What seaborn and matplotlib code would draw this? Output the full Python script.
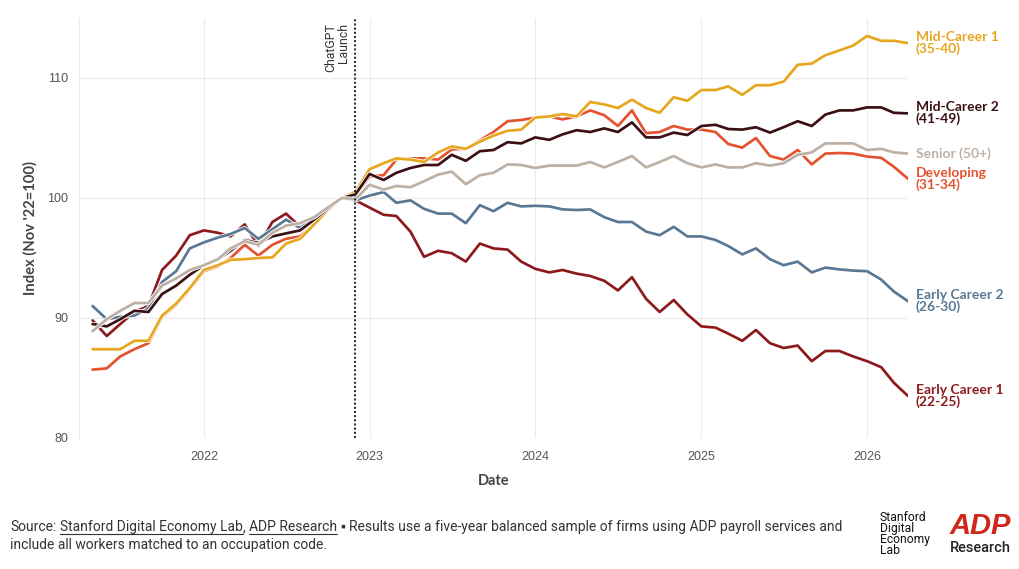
import numpy as np
import pandas as pd
import matplotlib
matplotlib.use("Agg")
import matplotlib.pyplot as plt
import matplotlib.patheffects as pe
from matplotlib.lines import Line2D
import seaborn as sns

# ---------------- data ----------------
dates = pd.date_range("2021-05-01", "2026-04-01", freq="MS")

early_career_1 = [89.8, 88.5, 89.5, 90.5, 91.0, 94.0, 95.2, 96.9, 97.3, 97.1,
                  96.8, 97.8, 96.0, 98.0, 98.7, 97.6, 98.3, 99.1, 100.0, 99.8,
                  99.2, 98.6, 98.5, 97.2, 95.1, 95.6, 95.4, 94.7, 96.2, 95.8,
                  95.7, 94.7, 94.1, 93.8, 94.0, 93.7, 93.5, 93.1, 92.3, 93.4,
                  91.6, 90.5, 91.5, 90.3, 89.3, 89.2, 88.7, 88.1, 89.0, 87.9,
                  87.5, 87.7, 86.4, 87.25, 87.25, 86.8, 86.4, 85.9, 84.6, 83.5]
early_career_2 = [91.0, 89.9, 90.1, 90.2, 90.8, 93.0, 93.9, 95.8, 96.3, 96.7,
                  97.0, 97.5, 96.6, 97.4, 98.2, 97.5, 98.3, 99.1, 100.0, 99.8,
                  100.2, 100.5, 99.6, 99.8, 99.1, 98.7, 98.7, 97.9, 99.4, 98.9,
                  99.6, 99.3, 99.35, 99.3, 99.05, 99.0, 99.05, 98.4, 98.0, 98.0,
                  97.2, 96.9, 97.6, 96.8, 96.8, 96.5, 96.0, 95.3, 95.8, 94.9,
                  94.4, 94.7, 93.8, 94.2, 94.05, 93.95, 93.9, 93.2, 92.2, 91.4]
developing = [85.7, 85.8, 86.8, 87.4, 87.9, 90.1, 91.1, 92.4, 93.9, 94.3,
              95.0, 96.1, 95.2, 96.1, 96.6, 96.8, 97.8, 99.0, 100.0, 100.25,
              101.8, 101.9, 103.2, 103.3, 103.3, 103.2, 104.05, 104.1, 104.8, 105.5,
              106.4, 106.5, 106.7, 106.8, 106.55, 106.8, 107.3, 106.9, 106.0, 107.3,
              105.4, 105.5, 106.0, 105.7, 105.7, 105.5, 104.5, 104.2, 105.0, 103.5,
              103.2, 104.0, 102.8, 103.7, 103.75, 103.7, 103.45, 103.35, 102.6, 101.6]
mid_career_1 = [87.4, 87.4, 87.4, 88.1, 88.1, 90.2, 91.2, 92.5, 94.0, 94.4,
                94.85, 94.9, 95.0, 95.05, 96.2, 96.6, 97.8, 99.0, 100.0, 100.5,
                102.4, 102.9, 103.3, 103.2, 103.0, 103.8, 104.3, 104.1, 104.7, 105.2,
                105.6, 105.7, 106.7, 106.8, 107.0, 106.8, 108.0, 107.8, 107.5, 108.2,
                107.5, 107.1, 108.4, 108.1, 109.0, 109.0, 109.3, 108.6, 109.4, 109.4,
                109.7, 111.1, 111.2, 111.9, 112.3, 112.7, 113.5, 113.1, 113.1, 112.9]
mid_career_2 = [89.5, 89.3, 89.9, 90.6, 90.5, 92.0, 92.7, 93.6, 94.4, 94.9,
                95.6, 96.5, 96.25, 96.8, 97.05, 97.3, 98.2, 99.1, 100.0, 100.3,
                102.0, 101.5, 102.1, 102.5, 102.75, 102.75, 103.6, 103.1, 103.9, 104.0,
                104.65, 104.55, 105.05, 104.85, 105.3, 105.65, 105.5, 105.8, 105.5, 106.3,
                105.05, 105.05, 105.45, 105.25, 106.0, 106.1, 105.75, 105.7, 105.9, 105.45,
                105.9, 106.4, 106.0, 106.95, 107.3, 107.3, 107.55, 107.55, 107.1, 107.05]
senior = [88.9, 89.9, 90.6, 91.25, 91.25, 92.7, 93.3, 94.0, 94.4, 94.9,
          95.8, 96.4, 96.1, 97.1, 97.7, 97.9, 98.4, 99.2, 100.0, 99.9,
          101.1, 100.7, 101.0, 100.9, 101.4, 101.95, 102.2, 101.15, 101.9, 102.1,
          102.8, 102.75, 102.5, 102.7, 102.7, 102.7, 103.0, 102.55, 103.0, 103.5,
          102.55, 103.0, 103.5, 102.9, 102.55, 102.8, 102.55, 102.55, 102.9, 102.7,
          102.9, 103.6, 103.8, 104.55, 104.55, 104.55, 104.0, 104.1, 103.8, 103.7]

series_names = ["Early Career 1", "Early Career 2", "Developing",
                "Mid-Career 1", "Mid-Career 2", "Senior (50+)"]
series_labels = ["Early Career 1\n(22-25)", "Early Career 2\n(26-30)", "Developing\n(31-34)",
                 "Mid-Career 1\n(35-40)", "Mid-Career 2\n(41-49)", "Senior (50+)"]
series_values = [early_career_1, early_career_2, developing,
                 mid_career_1, mid_career_2, senior]
series_colors = ["#8C1A1C", "#5A7893", "#E4522F", "#E6A61E", "#3B1014", "#BDB0A4"]

y_ticks = [80, 90, 100, 110]
x_tick_years = ["2022", "2023", "2024", "2025", "2026"]
chatgpt_date = pd.Timestamp("2022-11-30")

df = pd.DataFrame({
    "date": np.tile(dates, len(series_names)),
    "value": np.concatenate(series_values),
    "group": np.repeat(series_names, len(dates)),
})

# ---------------- style ----------------
sns.set_theme(style="white")
plt.rcParams["font.family"] = ["Liberation Sans", "DejaVu Sans"]

W, H = 1020, 569
fig = plt.figure(figsize=(W / 100, H / 100), dpi=100)
fig.patch.set_facecolor("white")
ax = fig.add_axes([79 / W, 1 - 438 / H, (908 - 79) / W, (438 - 18) / H])

sns.lineplot(data=df, x="date", y="value", hue="group", hue_order=series_names,
             palette=series_colors, linewidth=1.95, legend=False, errorbar=None, ax=ax)
for ln in ax.lines:
    ln.set_path_effects([pe.Stroke(linewidth=3.1, foreground="white"), pe.Normal()])
    ln.set_solid_joinstyle("round")

ax.set_ylim(80, 115)
ax.set_xlim(pd.Timestamp("2021-04-01"), pd.Timestamp("2026-04-01"))
ax.set_yticks(y_ticks)
ax.set_yticklabels([str(t) for t in y_ticks])
ax.set_xticks([pd.Timestamp(f"{y}-01-01") for y in x_tick_years])
ax.set_xticklabels(x_tick_years)
ax.grid(True, color="#EBEBEB", linewidth=0.8)
ax.set_axisbelow(True)
for s in ["top", "right", "bottom"]:
    ax.spines[s].set_visible(False)
ax.spines["left"].set_color("#EBEBEB")
ax.spines["left"].set_linewidth(0.8)
ax.tick_params(axis="both", length=0, labelsize=9.0, labelcolor="#555555")
ax.tick_params(axis="y", pad=8)
ax.tick_params(axis="x", pad=9)
ax.set_xlabel("")
ax.set_ylabel("")

fig.text(493.5 / W, 1 - 481 / H, "Date", ha="center", va="center",
         fontsize=10.5, fontweight="bold", color="#444444", family=["Lato", "DejaVu Sans"])
fig.text(30 / W, 1 - 228 / H, "Index (Nov '22=100)", ha="center", va="center",
         rotation=90, fontsize=10.6, fontweight="bold", color="#444444",
         family=["Lato", "DejaVu Sans"])

# ChatGPT launch marker
ax.axvline(chatgpt_date, color="#333333", linestyle=(0, (1, 1)), linewidth=1.5, zorder=5)
ax.annotate("ChatGPT\nLaunch", xy=(chatgpt_date, 115), xycoords="data",
            xytext=(-5, -5), textcoords="offset pixels", rotation=90,
            ha="right", va="top", multialignment="right", fontsize=8.8,
            color="#333333", linespacing=1.0, family=["Roboto", "DejaVu Sans"])

# end-of-line labels
for name, lab, vals, col in zip(series_names, series_labels, series_values, series_colors):
    ax.annotate(lab, xy=(1, vals[-1]), xycoords=("axes fraction", "data"),
                xytext=(8, 0), textcoords="offset pixels", ha="left", va="center",
                fontsize=10.0, fontweight="bold", color=col, linespacing=0.95,
                family=["Lato", "DejaVu Sans"], annotation_clip=False)

# ---------------- footer ----------------
foot_fam = ["Roboto", "Liberation Sans", "DejaVu Sans"]
foot_col = "#333333"
line1 = ("Source: Stanford Digital Economy Lab, ADP Research \u25aa Results use a five-year "
         "balanced sample of firms using ADP payroll services and")
line2 = "include all workers matched to an occupation code."
target_w = 838.0

fig.canvas.draw()
renderer = fig.canvas.get_renderer()

def width_px(s, size, fam=foot_fam):
    t = fig.text(0, 0, s, fontsize=size, family=fam)
    w = t.get_window_extent(renderer).width
    t.remove()
    return w

fs = 9.5
fs = fs * target_w / width_px(line1, fs)
space = width_px("a a", fs) - width_px("aa", fs)

segments = [("Source:", False, 0.0),
            ("Stanford Digital Economy Lab", True, space),
            (",", False, 0.0),
            ("ADP Research", True, space),
            ("\u25aa", False, space),
            ("Results use a five-year balanced sample of firms using ADP payroll services and", False, space)]
x = 10.0
base1 = 531.0
for txt, ul, sp in segments:
    x += sp
    t = fig.text(x / W, 1 - base1 / H, txt, fontsize=fs, family=foot_fam,
                 color=foot_col, ha="left", va="baseline")
    bb = t.get_window_extent(renderer)
    if ul:
        fig.add_artist(Line2D([bb.x0 / W, bb.x1 / W], [1 - (base1 + 2.5) / H] * 2,
                              transform=fig.transFigure, color=foot_col, linewidth=0.8))
    x = bb.x1
fig.text(10 / W, 1 - 549 / H, line2, fontsize=fs, family=foot_fam, color=foot_col,
         ha="left", va="baseline")

# logos
fig.text(880 / W, 1 - 511 / H, "Stanford\nDigital\nEconomy\nLab", fontsize=8.7,
         family=foot_fam, color="#111111", ha="left", va="top", linespacing=0.8)
fig.text(980 / W, 1 - 526 / H, "ADP", fontsize=21, fontweight="bold", style="italic",
         family=["Liberation Sans", "DejaVu Sans"], color="#D0271D", ha="center", va="center")
fig.text(980 / W, 1 - 548 / H, "Research", fontsize=10.5, fontweight="medium",
         family=foot_fam, color="#222222", ha="center", va="center")

fig.savefig("out.png", dpi=100, facecolor="white")
